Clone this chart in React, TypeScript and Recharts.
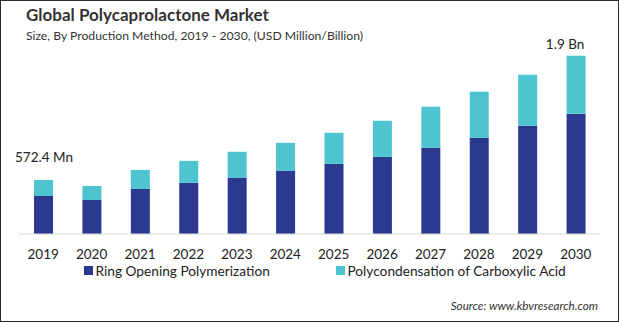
import { BarChart, Bar, XAxis, YAxis, Legend, LabelList } from "recharts";

const years = ["2019", "2020", "2021", "2022", "2023", "2024", "2025", "2026", "2027", "2028", "2029", "2030"];
const ringOpening = [402, 360, 477, 541, 594, 668, 742, 816, 912, 1018, 1145, 1272];
const polycondensation = [170.4, 148, 201, 233, 276, 297, 329, 382, 435, 488, 541, 615];
const endLabels = ["572.4 Mn", "", "", "", "", "", "", "", "", "", "", "1.9 Bn"];

const NAVY = "#2B3990";
const TEAL = "#4DC4D0";
const FONT = "Lato, 'Open Sans', sans-serif";

const data = years.map((y, i) => ({
  year: y,
  ring: ringOpening[i],
  poly: polycondensation[i],
  note: endLabels[i],
}));

function EndLabel(props: any) {
  const { x, y, width, value, index } = props;
  if (!value) return null;
  const first = index === 0;
  return (
    <text
      x={first ? x - 19 : x + width / 2 - 11}
      y={first ? y - 23 : y - 11}
      dy="0.35em"
      textAnchor={first ? "start" : "middle"}
      fill="#222"
      fontSize={13.5}
      fontFamily={FONT}
    >
      {value}
    </text>
  );
}

function LegendContent() {
  const items = [
    { name: "Ring Opening Polymerization", color: NAVY, left: 84 },
    { name: "Polycondensation of Carboxylic Acid", color: TEAL, left: 336 },
  ];
  return (
    <div style={{ position: "relative", width: 619, height: 18 }}>
      {items.map((it) => (
        <div
          key={it.name}
          style={{
            position: "absolute",
            left: it.left,
            top: 0,
            display: "flex",
            alignItems: "center",
            fontFamily: FONT,
            fontSize: 13.7,
            color: "#222",
            whiteSpace: "nowrap",
          }}
        >
          <span style={{ width: 9, height: 9, background: it.color, marginRight: 3, display: "inline-block" }} />
          {it.name}
        </div>
      ))}
    </div>
  );
}

export default function App() {
  return (
    <div
      style={{
        position: "fixed",
        left: 0,
        top: 0,
        width: 619,
        height: 322,
        background: "#fff",
        boxSizing: "border-box",
        border: "1.5px solid #2a2a2a",
        fontFamily: FONT,
      }}
    >
      <div style={{ position: "absolute", left: 25, top: 3, fontSize: 17, fontWeight: 700, color: "#333" }}>
        Global Polycaprolactone Market
      </div>
      <div style={{ position: "absolute", left: 25, top: 27, fontSize: 12.2, color: "#333" }}>
        Size, By Production Method, 2019 - 2030, (USD Million/Billion)
      </div>
      <div style={{ position: "absolute", right: 20, top: 297, fontSize: 11.7, fontStyle: "italic", color: "#333" }}>
        Source: www.kbvresearch.com
      </div>
      <div style={{ position: "absolute", left: -1.5, top: -1.5 }}>
        <BarChart
          width={619}
          height={322}
          data={data}
          margin={{ top: 45, right: 19, left: 19, bottom: 58 }}
          barSize={19}
        >
          <XAxis
            dataKey="year"
            height={30}
            tickLine={false}
            axisLine={{ stroke: "#d9d9d9" }}
            tickMargin={9}
            tick={{ fill: "#222", fontSize: 13.5, fontFamily: FONT }}
            interval={0}
          />
          <YAxis hide domain={[0, 2000]} />
          <Legend
            verticalAlign="middle"
            layout="horizontal"
            content={<LegendContent />}
            wrapperStyle={{ position: "absolute", left: 0, top: 262, width: 619 }}
          />
          <Bar dataKey="ring" stackId="a" fill={NAVY} isAnimationActive={false} />
          <Bar dataKey="poly" stackId="a" fill={TEAL} isAnimationActive={false}>
            <LabelList dataKey="note" content={<EndLabel />} />
          </Bar>
        </BarChart>
      </div>
    </div>
  );
}
